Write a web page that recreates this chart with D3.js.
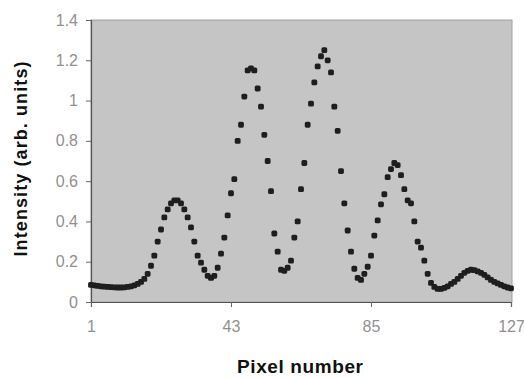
<!DOCTYPE html>
<html>
<head>
<meta charset="utf-8">
<script src="https://cdn.jsdelivr.net/npm/d3@7"></script>
<style>
  html, body { margin: 0; padding: 0; background: #fff; }
  svg { display: block; }
</style>
</head>
<body>
<svg id="chart" width="524" height="378"></svg>
<script>
// pixel index 1..127
const pixels = d3.range(1, 128);

// intensity, one value per pixel
const intensity = [
  0.085, 0.083, 0.080, 0.078, 0.076, 0.075, 0.074, 0.073, 0.072, 0.072,
  0.073, 0.075, 0.078, 0.083, 0.090, 0.100, 0.115, 0.140, 0.180, 0.230,
  0.300, 0.360, 0.420, 0.460, 0.490, 0.505, 0.505, 0.490, 0.460, 0.420,
  0.370, 0.300, 0.230, 0.195, 0.160, 0.130, 0.120, 0.130, 0.170, 0.240,
  0.320, 0.430, 0.540, 0.610, 0.800, 0.880, 1.020, 1.150, 1.160, 1.150,
  1.060, 0.970, 0.830, 0.700, 0.550, 0.340, 0.250, 0.160, 0.155, 0.170,
  0.205, 0.320, 0.400, 0.560, 0.690, 0.880, 0.985, 1.090, 1.170, 1.220,
  1.250, 1.200, 1.140, 0.970, 0.850, 0.650, 0.490, 0.355, 0.250, 0.165,
  0.120, 0.110, 0.140, 0.175, 0.230, 0.330, 0.405, 0.485, 0.535, 0.620,
  0.660, 0.690, 0.680, 0.630, 0.560, 0.505, 0.490, 0.400, 0.300, 0.270,
  0.205, 0.140, 0.095, 0.075, 0.065, 0.065, 0.070, 0.078, 0.090, 0.100,
  0.115, 0.130, 0.145, 0.155, 0.160, 0.158, 0.152, 0.145, 0.135, 0.122,
  0.110, 0.100, 0.092, 0.085, 0.078, 0.072, 0.068
];

const xTicks = [1, 43, 85, 127];
const yTicks = [0, 0.2, 0.4, 0.6, 0.8, 1, 1.2, 1.4];

const xTitle = 'Pixel number';
const yTitle = 'Intensity (arb. units)';

const plot = { left: 91, right: 512, top: 20, bottom: 302 };

const svg = d3.select('#chart');

const x = d3.scaleLinear().domain([1, 127]).range([plot.left, plot.right - 1]);
const y = d3.scaleLinear().domain([0, 1.4]).range([plot.bottom, plot.top]);

// plot area
svg.append('rect')
  .attr('x', plot.left)
  .attr('y', plot.top)
  .attr('width', plot.right - plot.left)
  .attr('height', plot.bottom - plot.top)
  .attr('fill', '#c5c5c5')
  .attr('stroke', '#a0a0a0')
  .attr('stroke-width', 1);

// axes
const yAxis = svg.append('g')
  .attr('transform', `translate(${plot.left},0)`)
  .call(d3.axisLeft(y)
    .tickValues(yTicks)
    .tickSize(5)
    .tickPadding(8)
    .tickFormat(d => (d === 0 || d === 1) ? String(d) : d3.format('.1f')(d)));

const xAxis = svg.append('g')
  .attr('transform', `translate(0,${plot.bottom})`)
  .call(d3.axisBottom(x)
    .tickValues(xTicks)
    .tickSize(5)
    .tickPadding(14)
    .tickFormat(d3.format('d')));

[yAxis, xAxis].forEach(g => {
  g.select('.domain').attr('stroke', '#555').attr('stroke-width', 1.2);
  g.selectAll('.tick line').attr('stroke', '#666');
  g.selectAll('.tick text')
    .attr('fill', '#909090')
    .attr('font-family', 'Liberation Sans, Arial, sans-serif')
    .attr('font-size', 16);
});

// points
svg.append('g')
  .selectAll('rect')
  .data(pixels)
  .join('rect')
  .attr('x', d => x(d) - 2.9)
  .attr('y', (d, i) => y(intensity[i]) - 2.9)
  .attr('width', 5.8)
  .attr('height', 5.8)
  .attr('rx', 1.6)
  .attr('fill', '#1e1e1e');

// axis titles
svg.append('text')
  .attr('x', 300)
  .attr('y', 373)
  .attr('text-anchor', 'middle')
  .attr('font-family', 'Liberation Sans, Arial, sans-serif')
  .attr('font-weight', 'bold')
  .attr('font-size', 19)
  .attr('fill', '#111')
  .attr('textLength', 126)
  .text(xTitle);

svg.append('text')
  .attr('transform', 'translate(27,159) rotate(-90)')
  .attr('text-anchor', 'middle')
  .attr('font-family', 'Liberation Sans, Arial, sans-serif')
  .attr('font-weight', 'bold')
  .attr('font-size', 18)
  .attr('fill', '#111')
  .attr('textLength', 195)
  .text(yTitle);
</script>
</body>
</html>
